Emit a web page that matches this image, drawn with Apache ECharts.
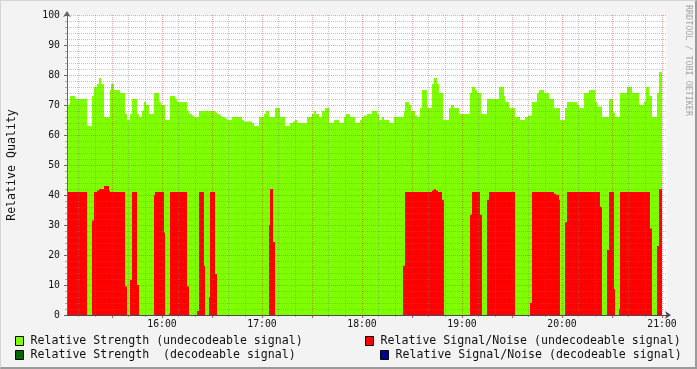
<!DOCTYPE html>
<html><head><meta charset="utf-8">
<script src="https://cdn.jsdelivr.net/npm/echarts@6/dist/echarts.min.js"></script>
<style>
html,body{margin:0;padding:0;background:#f3f3f3}
#wrap{position:relative;width:697px;height:369px}
#chart{width:697px;height:369px}
#frame{position:absolute;left:0;top:0;width:697px;height:369px;box-sizing:border-box;border-top:1px solid #d4d4d4;border-left:1px solid #d4d4d4;border-right:2px solid #9a9a9a;border-bottom:2px solid #9a9a9a;pointer-events:none}
</style></head>
<body><div id="wrap"><div id="chart"></div><div id="frame"></div></div>
<script>
// ---- data (time = minutes after 15:00; each value holds until the next time) ----
const hourLabels = ['16:00', '17:00', '18:00', '19:00', '20:00', '21:00'];
const seriesNames = [
  'Relative Strength (undecodeable signal)',
  'Relative Signal/Noise (undecodeable signal)',
  'Relative Strength  (decodeable signal)',
  'Relative Signal/Noise (decodeable signal)'
];
const strengthTimes = [3,3.6,4.8,7.8,15,18,19.2,21,22.2,23.4,
  25.2,28.8,29.4,31.2,34.8,37.8,39,40.8,42,45,
  46.2,48,49.2,50.4,52.2,55.2,58.2,59.4,61.8,64.8,
  67.8,69,75,76.2,78,79.2,82.2,91.8,93,94.8,
  96,97.8,99.2,102,108,109.2,114,115.2,118.2,121.2,
  122.4,124.2,127.8,130.8,133.8,136.8,138.6,139.8,141,147,
  150,151.2,152.4,154.2,156,157.8,160.2,163.2,166.2,169.2,
  170.4,172.8,175.8,178.8,180,181.2,183,186,189,190.2,
  192,193.2,196.2,199.2,205.2,205.8,208.2,209.4,211.8,213,
  214.8,216,219,222,223.2,225,226.2,228.6,232.2,233.4,
  235.2,238.2,244.8,246,247.8,249,251.4,255,262.2,265.2,
  265.8,268.2,271.8,274.8,277.8,279.6,282,285,286.2,289.2,
  292.2,295.2,298.8,301.8,303,309,310.2,313.2,316.2,319.8,
  321,324,328.2,330.6,331.8,334.8,339,342,346.2,349.2,
  350.4,352.2,354,357,358.2,360];
const strengthValues = [69,70,73,72,63,73,76,77,79,77,
  66,75,77,75,74,67,65,67,72,67,
  66,68,71,70,67,74,71,70,65,73,
  72,71,68,67,66.5,66,68,67.5,67,66.5,
  66,65.5,65,66,65,64.5,64,63,66,67,
  68,66,69,66,63,64,64.5,65,64,66,
  67,68,67,66,68,69,64,65,64,66,
  67,66,64,65,66,66.5,67,68,67,65,
  66,65,64,66,68,71,70,68,66.5,66,
  69,75,69,77,79,77,74,65,69,70,
  69,67,74,76,75,74,67,72,76,73,
  71,69,66,65,66,66.5,71,74,75,74,
  72,69,65,69,71,70,69,74,75,71,
  69.5,66,72,67.5,66,74,76,74,70,71,
  76,73,66,74,81,81];
const snrTimes = [3,15,18,19.2,21,22.2,25.2,28.2,28.8,37.8,
  39,40.8,42,45,46.2,55.2,55.8,61.2,61.8,64.2,
  64.8,75,76.2,81,82.2,85.2,85.8,88.2,88.8,91.8,
  93,124.2,124.8,126.6,127.8,204.6,205.8,222,223.2,224.4,
  225.6,228,229.2,244.8,246,250.8,252,255,256.2,271.8,
  280.8,282,295.2,296.4,298.2,298.8,301.8,303,322.8,324,
  327,328.2,331.2,331.8,334.2,334.8,352.8,354,357,358.2,
  360];
const snrValues = [41,0,31.5,41,41.5,42,43,41.5,41,9.5,
  0,11.7,41,10,0,40,41,27.5,0,0.5,
  41,9.5,0,1.3,41,16.4,0,6,41,13.7,
  0,30,42,24.3,0,16.4,41,41.5,42,41.5,
  41,38.4,0,33.4,41,33.4,0,38.4,41,0,
  4.1,41,40.4,40.1,38.4,0,30.9,41,36.1,0,
  21.7,41,8.7,0,2,41,28.8,0,23,42,
  42];
const strengthDecTimes = [];
const strengthDecValues = [];
const snrDecTimes = [];
const snrDecValues = [];

// ---- layout / style ----
const FONT = '"DejaVu Sans Mono", monospace';
const X_MIN = 3, X_MAX = 363;
const PLOT_L = 67, PLOT_W = 600, PLOT_T = 15, PLOT_H = 300, W = 697;
const PX_PER_MIN = PLOT_W / (X_MAX - X_MIN);
const xPix = m => PLOT_L + (m - X_MIN) * PX_PER_MIN;
const MINOR = 'rgba(125,125,125,0.45)';
const MAJOR = 'rgba(215,40,40,0.42)';
const CLEAR = 'rgba(0,0,0,0)';
const GREEN = '#80ff00', RED = '#ff0000', DKGREEN = '#006600', BLUE = '#000099';

// [start, end, value] segments built from the change-point arrays
const segments = (t, v) => t.slice(0, -1).map((x, i) => [x, t[i + 1], v[i]]);

function stepSeries(name, data, color) {
  return {
    name, type: 'custom', xAxisIndex: 0, yAxisIndex: 0, data, silent: true,
    encode: { x: [0, 1], y: 2 },
    itemStyle: { color },
    renderItem: (params, api) => {
      const top = api.coord([api.value(0), api.value(2)]);
      const bot = api.coord([api.value(1), 0]);
      return { type: 'rect', shape: { x: top[0], y: top[1], width: bot[0] - top[0], height: bot[1] - top[1] },
               style: { fill: color } };
    }
  };
}
function legendAt(name, left, top) {
  return {
    data: [name], left, top, padding: 0, itemWidth: 8, itemHeight: 9, icon: 'rect',
    selectedMode: false, itemStyle: { borderColor: '#000', borderWidth: 1 },
    textStyle: { fontFamily: FONT, fontSize: 11.6, color: '#111', padding: [0, 0, 0, 2] }
  };
}

const chart = echarts.init(document.getElementById('chart'), null, { renderer: 'canvas' });
const auxRight = W - xPix(360);
chart.setOption({
  animation: false,
  backgroundColor: '#f3f3f3',
  grid: [
    { left: PLOT_L, top: PLOT_T, width: PLOT_W, height: PLOT_H, show: true, backgroundColor: '#fff', borderWidth: 0, outerBoundsMode: 'none', containLabel: false },
    { left: xPix(10), top: PLOT_T, right: auxRight, height: PLOT_H, outerBoundsMode: 'none', containLabel: false },
    { left: xPix(30), top: PLOT_T, right: auxRight, height: PLOT_H, outerBoundsMode: 'none', containLabel: false }
  ],
  xAxis: [
    { gridIndex: 0, type: 'value', min: X_MIN, max: X_MAX, z: 12,
      axisLine: { show: true, lineStyle: { color: '#4a4a55' }, symbol: ['none', 'arrow'], symbolSize: [6, 6], symbolOffset: [0, 4] },
      axisTick: { show: false }, axisLabel: { show: false }, splitLine: { show: false } },
    { gridIndex: 1, type: 'value', min: 10, max: 360, interval: 10, z: 10,
      axisLine: { show: false }, axisTick: { show: true, length: 2, lineStyle: { color: '#aaa' } },
      axisLabel: { show: false },
      splitLine: { show: true, lineStyle: { color: [MINOR, MINOR, CLEAR], type: [1, 1] } } },
    { gridIndex: 2, type: 'value', min: 30, max: 360, interval: 30, z: 11,
      axisLine: { show: false }, axisTick: { show: true, length: 3, lineStyle: { color: '#c06060' } },
      axisLabel: { show: true, fontFamily: FONT, fontSize: 9.8, color: '#111', margin: 4,
        formatter: v => (v % 60 === 0 ? hourLabels[v / 60 - 1] : '') },
      splitLine: { show: true, lineStyle: { color: MAJOR, type: [1, 1] } } }
  ],
  yAxis: [
    { gridIndex: 0, type: 'value', min: 0, max: 100, interval: 10, z: 10,
      name: 'Relative Quality', nameLocation: 'middle', nameGap: 49,
      nameTextStyle: { fontFamily: FONT, fontSize: 11.6, color: '#111' },
      axisLine: { show: true, lineStyle: { color: '#666' }, symbol: ['none', 'arrow'], symbolSize: [6, 6], symbolOffset: [0, 4] },
      axisTick: { show: true, length: 3, lineStyle: { color: '#666' } },
      minorTick: { show: true, splitNumber: 5, length: 2, lineStyle: { color: '#aaa' } },
      axisLabel: { fontFamily: FONT, fontSize: 9.8, color: '#111', margin: 7 },
      splitLine: { show: true, lineStyle: { color: MAJOR, type: [1, 1] } },
      minorSplitLine: { show: true, lineStyle: { color: MINOR, type: [1, 1] } } },
    { gridIndex: 1, type: 'value', min: 0, max: 1, show: false },
    { gridIndex: 2, type: 'value', min: 0, max: 1, show: false }
  ],
  legend: [
    legendAt(seriesNames[0], 15, 335),
    legendAt(seriesNames[1], 365, 335),
    legendAt(seriesNames[2], 15, 349),
    legendAt(seriesNames[3], 380, 349)
  ],
  graphic: [{
    type: 'text', x: 688, y: 5, rotation: -Math.PI / 2, silent: true,
    style: { text: 'RRDTOOL / TOBI OETIKER', font: '8.4px ' + FONT, fill: '#a4a4a4', align: 'left', verticalAlign: 'middle' }
  }],
  series: [
    stepSeries(seriesNames[0], segments(strengthTimes, strengthValues), GREEN),
    stepSeries(seriesNames[1], segments(snrTimes, snrValues), RED),
    stepSeries(seriesNames[2], segments(strengthDecTimes, strengthDecValues), DKGREEN),
    stepSeries(seriesNames[3], segments(snrDecTimes, snrDecValues), BLUE)
  ]
});
</script>
</body></html>
